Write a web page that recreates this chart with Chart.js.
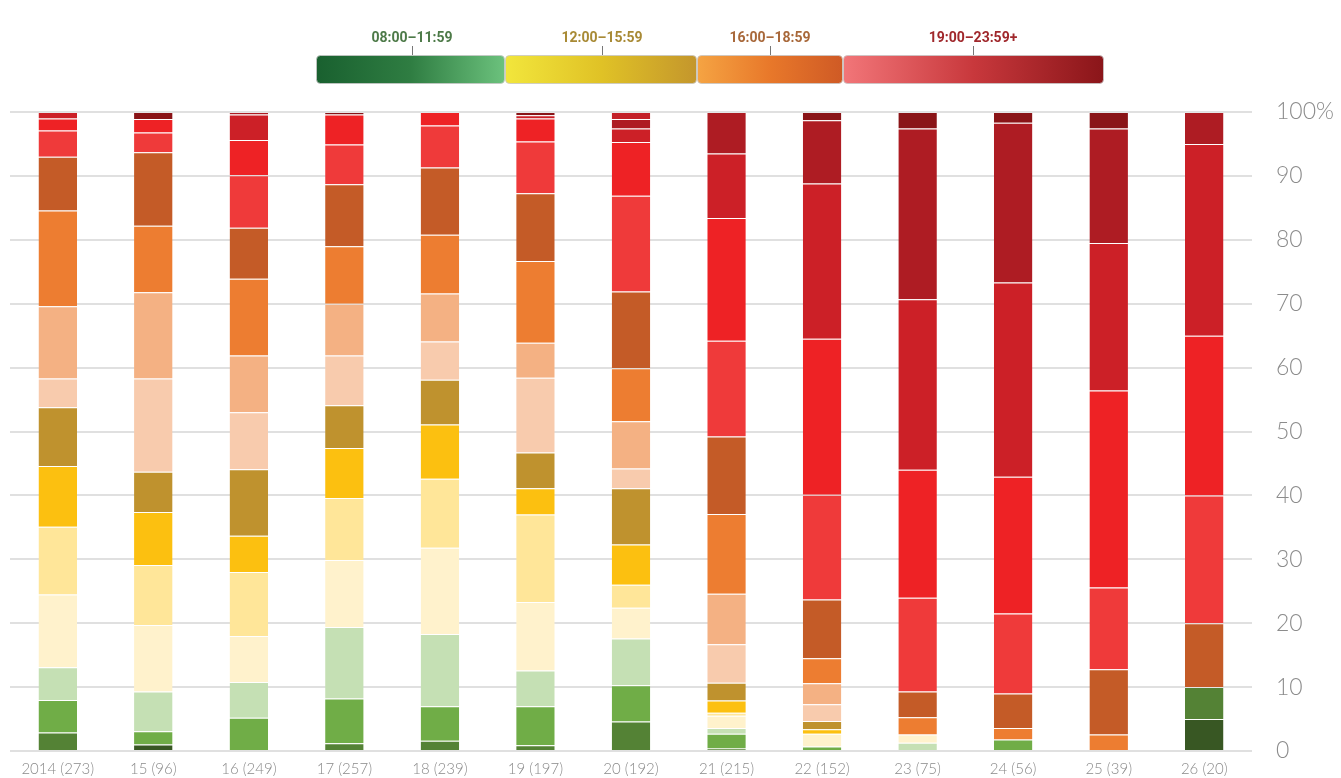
<!DOCTYPE html>
<html>
<head>
<meta charset="utf-8">
<script src="https://cdn.jsdelivr.net/npm/chart.js@4.4.1/dist/chart.umd.min.js"></script>
<style>
  html, body { margin: 0; padding: 0; background: #fff; }
  #wrap { width: 1341px; height: 778px; position: relative; }
</style>
</head>
<body>
<div id="wrap"><canvas id="myChart"></canvas></div>
<script>
// categories (year + number of items)
let years = ['2014 (273)', '15 (96)', '16 (249)', '17 (257)', '18 (239)', '19 (197)', '20 (192)',
             '21 (215)', '22 (152)', '23 (75)', '24 (56)', '25 (39)', '26 (20)'];

// share of each time slot, in %, bottom to top
let s01 = [0, 1.0, 0, 0, 0, 0, 0, 0, 0, 0, 0, 0, 5];
let s02 = [2.9, 0, 0, 1.2, 1.6, 0.9, 4.6, 0.4, 0, 0, 0, 0, 5];
let s03 = [5.1, 2.1, 5.2, 7.0, 5.4, 6.1, 5.7, 2.3, 0.7, 0, 1.8, 0, 0];
let s04 = [5.1, 6.2, 5.6, 11.2, 11.3, 5.6, 7.3, 0.9, 0, 1.3, 0, 0, 0];
let s05 = [11.4, 10.4, 7.2, 10.5, 13.5, 10.7, 4.8, 1.9, 2.0, 1.3, 0, 0, 0];
let s06 = [10.6, 9.4, 10.0, 9.7, 10.8, 13.7, 3.6, 0.5, 0, 0, 0, 0, 0];
let s07 = [9.5, 8.3, 5.7, 7.8, 8.5, 4.1, 6.3, 1.9, 0.7, 0, 0, 0, 0];
let s08 = [9.2, 6.3, 10.4, 6.7, 7.0, 5.6, 8.8, 2.8, 1.3, 0, 0, 0, 0];
let s09 = [4.5, 14.6, 8.9, 7.8, 6.0, 11.7, 3.1, 6.0, 2.6, 0, 0, 0, 0];
let s10 = [11.3, 13.5, 8.9, 8.1, 7.5, 5.5, 7.4, 7.9, 3.3, 0, 0, 0, 0];
let s11 = [15.0, 10.4, 12.0, 9.0, 9.2, 12.8, 8.3, 12.5, 3.9, 2.7, 1.8, 2.6, 0];
let s12 = [8.4, 11.5, 8.0, 9.7, 10.5, 10.6, 12.0, 12.1, 9.2, 4.0, 5.4, 10.2, 10];
let s13 = [4.1, 3.1, 8.2, 6.2, 6.6, 8.1, 15.0, 15.0, 16.4, 14.7, 12.5, 12.8, 20];
let s14 = [1.9, 2.1, 5.5, 4.7, 2.1, 3.6, 8.4, 19.2, 24.4, 20.0, 21.4, 30.8, 25];
let s15 = [1.0, 0, 4.0, 0, 0, 0.5, 2.1, 10.1, 24.3, 26.7, 30.4, 23.1, 30];
let s16 = [0, 0, 0.4, 0, 0, 0, 1.5, 6.5, 9.9, 26.7, 25.0, 17.9, 5];
let s17 = [0, 1.1, 0, 0.4, 0, 0.5, 0, 0, 1.3, 2.6, 1.7, 2.6, 0];
let s18 = [0, 0, 0, 0, 0, 0, 1.1, 0, 0, 0, 0, 0, 0];

let series = [s01, s02, s03, s04, s05, s06, s07, s08, s09, s10, s11, s12, s13, s14, s15, s16, s17, s18];
let colors = ['#385723', '#548235', '#70ad47', '#c5e0b4',
              '#fff2cc', '#ffe699', '#fcc010', '#bf922e',
              '#f8cbad', '#f4b183', '#ed7d31', '#c45b27',
              '#ef3a3a', '#ee2225', '#cc2027', '#ae1c23', '#8a1417', '#c42129'];

// legend groups
let groupLabels = ['08:00–11:59', '12:00–15:59', '16:00–18:59', '19:00–23:59+'];
let groupColors = ['#4d7a48', '#a88a35', '#a8683a', '#a0282c'];
let groupStops = [['#19602f', '#2f7d42', '#6cc27d'], ['#f2e63c', '#e0c226', '#c4962c'],
                  ['#f5a443', '#e8782a', '#cf5a25'], ['#f27679', '#c8383c', '#8a1519']];
let groupBox = [[316, 505], [505, 697], [697, 843], [843, 1104]];
let groupTick = [412, 602, 770, 973];

let datasets = series.map(function (d, i) {
  return {
    label: 'slot ' + (i + 1),
    data: d,
    backgroundColor: colors[i],
    borderColor: 'rgba(255,255,255,0.2)',
    borderWidth: { top: 1, right: 0, bottom: 0, left: 0 },
    borderSkipped: false,
    categoryPercentage: 1.0,
    barPercentage: 0.403
  };
});

// gradient legend drawn above the plot
const timeLegend = {
  id: 'timeLegend',
  afterDraw(chart) {
    let ctx = chart.ctx;
    ctx.save();
    for (let i = 0; i < groupBox.length; i++) {
      let x0 = groupBox[i][0], x1 = groupBox[i][1];
      let g = ctx.createLinearGradient(x0, 0, x1, 0);
      g.addColorStop(0, groupStops[i][0]);
      g.addColorStop(0.5, groupStops[i][1]);
      g.addColorStop(1, groupStops[i][2]);
      ctx.beginPath();
      ctx.roundRect(x0 + 0.5, 55.5, x1 - x0 - 1, 28, 4);
      ctx.fillStyle = g;
      ctx.fill();
      ctx.strokeStyle = 'rgba(200,200,200,0.8)';
      ctx.lineWidth = 1;
      ctx.stroke();

      ctx.beginPath();
      ctx.moveTo(groupTick[i] + 0.5, 46);
      ctx.lineTo(groupTick[i] + 0.5, 55);
      ctx.strokeStyle = '#777';
      ctx.stroke();

      ctx.fillStyle = groupColors[i];
      ctx.font = 'bold 14px "Liberation Sans Narrow", "Roboto", sans-serif';
      ctx.textAlign = 'center';
      ctx.textBaseline = 'middle';
      ctx.fillText(groupLabels[i], groupTick[i], 38);
    }
    ctx.restore();
  }
};

let chart = document.getElementById('myChart');

const config = {
  type: 'bar',
  data: { labels: years, datasets: datasets },
  options: {
    responsive: true,
    maintainAspectRatio: false,
    animation: false,
    layout: { padding: { top: 112, left: 10, right: 0, bottom: 0 } },
    plugins: {
      legend: { display: false },
      tooltip: { enabled: false }
    },
    scales: {
      x: {
        stacked: true,
        grid: { display: false, drawTicks: false },
        border: { display: false },
        ticks: {
          color: '#8a8a8a',
          padding: 9,
          maxRotation: 0,
          autoSkip: false,
          font: { family: 'Lato', size: 15, weight: '300' }
        },
        afterFit(scale) { scale.height = 27; }
      },
      y: {
        stacked: true,
        position: 'right',
        min: 0,
        max: 100,
        // invisible tick marks give the gap between plot and labels
        grid: { color: '#e0e0e0', lineWidth: 2, drawTicks: true, tickLength: 24, tickColor: 'rgba(0,0,0,0)' },
        border: { display: false },
        ticks: {
          stepSize: 10,
          color: '#8c8c8c',
          padding: 0,
          font: { family: 'Lato', size: 23, weight: '300' },
          callback: function (v) { return v === 100 ? '100%' : v; }
        },
        afterFit(scale) { scale.width = 89; }
      }
    }
  },
  plugins: [timeLegend]
};

var myChart = new Chart(chart, config);
</script>
</body>
</html>
